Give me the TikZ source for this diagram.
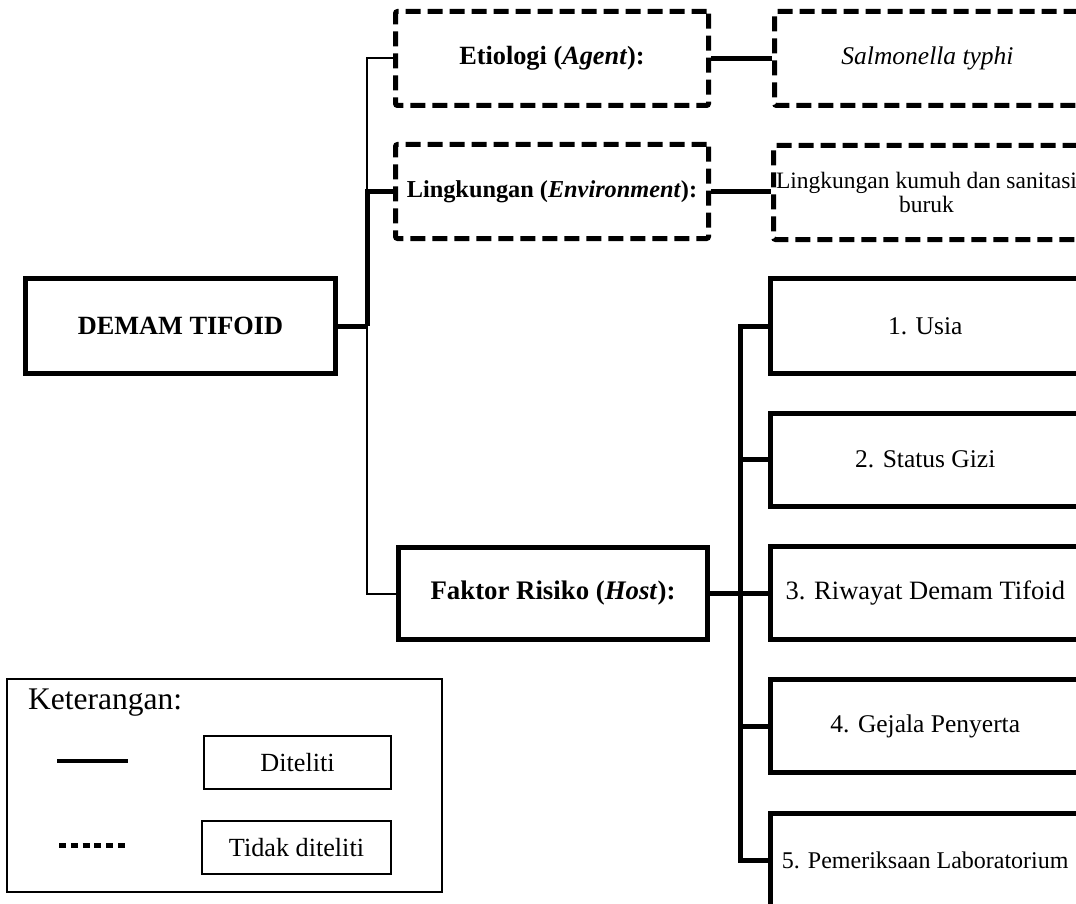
\documentclass[tikz,border=0pt]{standalone}
\usepackage{fontspec}
\setmainfont{Liberation Serif}
\begin{document}
\begin{tikzpicture}[x=1pt,y=-1pt,
  txt/.style={font=\fontsize{25.5}{27}\selectfont},
  solidbox/.style={draw, line width=5pt, inner sep=0pt, txt},
  dashbox/.style={draw, line width=5pt, dash pattern=on 15pt off 7pt, rounded corners=2pt, inner sep=0pt, txt},
  thinc/.style={line width=2pt},
  thickc/.style={line width=5pt},
  lgdbox/.style={draw, line width=1.3pt, inner sep=0pt, font=\fontsize{26.2}{28}\selectfont}
]
\useasboundingbox (0,0) rectangle (1076,904);
\clip (0,0) rectangle (1076,904);

% main nodes
\node[solidbox, minimum width=310pt, minimum height=95pt, font=\fontsize{26.3}{28}\selectfont] (demam) at (180.5,326) {\textbf{DEMAM TIFOID}};
\node[dashbox, minimum width=313pt, minimum height=94pt, font=\fontsize{26.3}{28}\selectfont] (etio) at (552,58.5) {\textbf{Etiologi (\textit{Agent}):}};
\node[dashbox, minimum width=313pt, minimum height=94pt, font=\fontsize{24.3}{26}\selectfont] (ling) at (552,191.5) {\textbf{Lingkungan (\textit{Environment}):}};
\node[solidbox, minimum width=309pt, minimum height=92pt, font=\fontsize{26.8}{28}\selectfont] (faktor) at (553,593.5) {\textbf{Faktor Risiko (\textit{Host}):}};

\node[dashbox, minimum width=306pt, minimum height=94pt] (salm) at (927.5,58.5) {\textit{Salmonella typhi}};
\node[dashbox, minimum width=306pt, minimum height=94pt, align=center, font=\fontsize{23.5}{24}\selectfont] (lingk) at (926.5,192.5) {Lingkungan kumuh dan sanitasi\\buruk};

\node[solidbox, minimum width=309.5pt, minimum height=95pt] (usia) at (925.25,326) {1. Usia};
\node[solidbox, minimum width=309.5pt, minimum height=93pt] (gizi) at (925.25,459.5) {2. Status Gizi};
\node[solidbox, minimum width=309.5pt, minimum height=93pt, font=\fontsize{26.5}{28}\selectfont] (riw) at (925.25,593) {3. Riwayat Demam Tifoid};
\node[solidbox, minimum width=309.5pt, minimum height=93pt] (gej) at (925.25,726) {4. Gejala Penyerta};
\node[solidbox, minimum width=309.5pt, minimum height=93pt, font=\fontsize{24}{26}\selectfont] (lab) at (925.25,860) {5. Pemeriksaan Laboratorium};

% buses
\coordinate (busA) at (367,0);
\coordinate (busB) at (740,0);

\draw[thinc] (etio.west) -- (etio.west -| busA) -- (ling.west -| busA);
\draw[thickc] (ling.west) -- (ling.west -| busA) -- (demam.east -| busA);
\draw[thickc] (demam.east) -- (demam.east -| busA);
\draw[thinc] (demam.east -| busA) -- (faktor.west -| busA) -- (faktor.west);

\draw[thickc] (etio.east) -- (salm.west);
\draw[thickc] (ling.east) -- (lingk.west |- ling.east);

\draw[thickc] (faktor.east) -- (faktor.east -| busB);
\draw[thickc] (usia.west) -- (usia.west -| busB) -- (lab.west -| busB) -- (lab.west);
\draw[thickc] (gizi.west) -- (gizi.west -| busB);
\draw[thickc] (riw.west) -- (riw.west -| busB);
\draw[thickc] (gej.west) -- (gej.west -| busB);

% legend
\node[draw, line width=1.2pt, minimum width=435pt, minimum height=213pt, inner sep=0pt] (legend) at (224.5,785.5) {};
\node[anchor=west, inner sep=0pt, font=\fontsize{31.5}{33}\selectfont] (ket) at (28,703) {Keterangan:};
\coordinate (s1) at (57,761);
\coordinate (s2) at (128,761);
\coordinate (d1) at (59,845);
\coordinate (d2) at (125,845);
\draw[line width=4.5pt] (s1) -- (s2);
\draw[line width=5pt, dash pattern=on 7pt off 4.8pt] (d1) -- (d2);
\node[lgdbox, minimum width=187pt, minimum height=53pt] (dit) at (297.5,762.5) {Diteliti};
\node[lgdbox, minimum width=189pt, minimum height=53pt] (tdk) at (296.5,847.5) {Tidak diteliti};
\end{tikzpicture}
\end{document}
